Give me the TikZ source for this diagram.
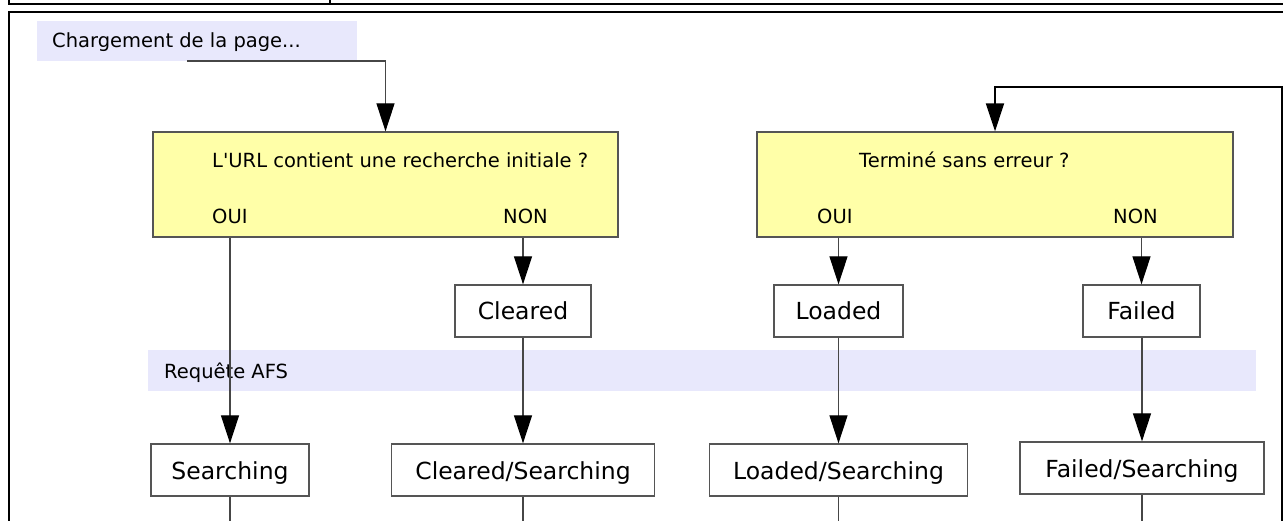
\documentclass[tikz,border=0pt]{standalone}
\usepackage{fontspec}
\setmainfont{DejaVu Sans}[Ligatures=TeXOff]
\usetikzlibrary{arrows.meta,calc}
\definecolor{decfill}{RGB}{255,255,168}
\definecolor{bandfill}{RGB}{232,232,252}
\definecolor{edge}{RGB}{85,85,85}
\definecolor{conn}{RGB}{70,70,70}
\tikzset{
  smalltext/.style={font=\fontsize{19.5}{23}\selectfont, inner sep=0pt},
  bigtext/.style={font=\fontsize{23.5}{28}\selectfont},
  decbox/.style={draw=edge, line width=1.3pt, fill=decfill, inner sep=0pt},
  bandbox/.style={fill=bandfill, inner sep=0pt},
  statebox/.style={draw=edge, line width=1.3pt, fill=white, bigtext, inner sep=0pt,
    minimum height=52pt, text height=23pt, text depth=5pt},
  conn/.style={draw=conn, line width=1.2pt},
  arr/.style={conn, -{Triangle[width=18pt,length=28pt,color=black]}},
  frameline/.style={draw=black, line width=1.5pt},
  loopline/.style={draw=black, line width=2pt, -{Triangle[width=18pt,length=28pt,color=black]}},
}
\begin{document}
\begin{tikzpicture}[x=1pt,y=-1pt]
\useasboundingbox (0,0) rectangle (1283,521);
% outer table/frame lines
\draw[frameline] (9,0) -- (9,4) -- (1283,4);
\draw[frameline] (330,0) -- (330,4);
\draw[frameline] (1283,12) -- (9,12) -- (9,521);
% bands
\node[bandbox, minimum width=320pt, minimum height=40pt] (charge) at (197,41) {};
\node[smalltext, anchor=base west] (chargetxt) at (52,48) {Chargement de la page...};
\node[bandbox, minimum width=1108pt, minimum height=41pt] (band) at (702,370.5) {};
\node[smalltext, anchor=base west] (bandtxt) at (164,378) {Requête AFS};
% decisions
\node[decbox, minimum width=465pt, minimum height=105pt] (dec1) at (385.5,184.5) {};
\node[smalltext, anchor=base west] (q1) at (212,168) {L'URL contient une recherche initiale ?};
\node[smalltext, anchor=base west] (oui1) at (212,224) {OUI};
\node[smalltext, anchor=base west] (non1) at (503,224) {NON};
\node[decbox, minimum width=476pt, minimum height=105pt] (dec2) at (995,184.5) {};
\node[smalltext, anchor=base west] (q2) at (859,168) {Terminé sans erreur ?};
\node[smalltext, anchor=base west] (oui2) at (817,224) {OUI};
\node[smalltext, anchor=base west] (non2) at (1113,224) {NON};
% states row 1
\node[statebox, minimum width=136pt] (cleared) at (523,311) {Cleared};
\node[statebox, minimum width=129pt] (loaded) at (838.5,311) {Loaded};
\node[statebox, minimum width=117pt] (failed) at (1141.5,311) {Failed};
% states row 2
\node[statebox, minimum width=158pt] (searching) at (230,470) {Searching};
\node[statebox, minimum width=263pt] (clsearch) at (523,470) {Cleared/Searching};
\node[statebox, minimum width=258pt] (ldsearch) at (838.5,470) {Loaded/Searching};
\node[statebox, minimum width=244pt] (flsearch) at (1142,468) {Failed/Searching};
% coordinates
\coordinate (cstart) at (187,61);
\coordinate (loopstart) at (1282,521);
\coordinate (loopturn) at (1282,87);
\coordinate (b1) at (230,521);
\coordinate (b2) at (523,521);
\coordinate (b3) at (838.5,521);
\coordinate (b4) at (1142,521);
% connectors
\draw[arr] (cstart) -| (dec1.north);
\draw[loopline] (loopstart) -- (loopturn) -| (dec2.north);
\draw[arr] (dec1.south -| searching.north) -- (searching.north);
\draw[arr] (dec1.south -| cleared.north) -- (cleared.north);
\draw[arr] (dec2.south -| loaded.north) -- (loaded.north);
\draw[arr] (dec2.south -| failed.north) -- (failed.north);
\draw[arr] (cleared.south) -- (clsearch.north);
\draw[arr] (loaded.south) -- (ldsearch.north);
\draw[arr] (failed.south -| flsearch.north) -- (flsearch.north);
\draw[conn] (searching.south) -- (b1);
\draw[conn] (clsearch.south) -- (b2);
\draw[conn] (ldsearch.south) -- (b3);
\draw[conn] (flsearch.south) -- (b4);
\end{tikzpicture}
\end{document}
